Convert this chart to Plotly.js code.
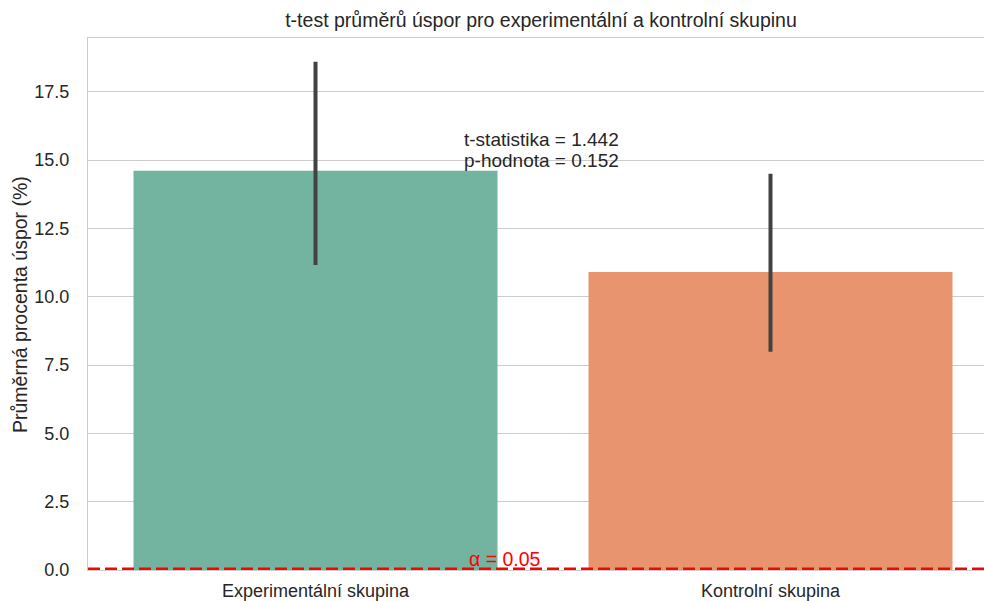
<!DOCTYPE html>
<html>
<head>
<meta charset="utf-8">
<script src="https://cdn.plot.ly/plotly-3.0.1.min.js"></script>
<style>
html,body{margin:0;padding:0;overflow:hidden;background:#fff;}
#chart{width:1000px;height:601px;}
</style>
</head>
<body>
<div id="chart"></div>
<script>
const categories = ["Experimentální skupina", "Kontrolní skupina"];
const means = [14.61, 10.91];
const ciUpper = [18.60, 14.50];
const ciLower = [11.16, 7.99];
const barColors = ["#72b4a0", "#e8956f"];
const alphaLevel = 0.05;
const tStat = 1.442;
const pValue = 0.152;

const errPlus = means.map((m, i) => ciUpper[i] - m);
const errMinus = means.map((m, i) => m - ciLower[i]);

const font = "Liberation Sans, Arial, sans-serif";

const traces = [
  {
    type: "bar",
    x: [0, 1],
    y: means,
    width: 0.8,
    marker: {color: barColors, line: {width: 0}},
    error_y: {
      type: "data",
      symmetric: false,
      array: errPlus,
      arrayminus: errMinus,
      color: "#424242",
      thickness: 4,
      width: 0
    },
    hoverinfo: "none",
    showlegend: false
  },
  {
    type: "scatter",
    mode: "lines",
    x: [-0.5, 1.5],
    y: [alphaLevel, alphaLevel],
    line: {color: "#ff0000", width: 2.5, dash: "12px,5px"},
    hoverinfo: "none",
    showlegend: false,
    cliponaxis: false
  }
];

const layout = {
  width: 1000,
  height: 601,
  margin: {l: 88, r: 2, t: 38, b: 31},
  paper_bgcolor: "#ffffff",
  plot_bgcolor: "#ffffff",
  font: {family: font, color: "#333333", size: 13},
  title: {
    text: "t-test průměrů úspor pro experimentální a kontrolní skupinu",
    font: {family: font, size: 19.5, color: "#262626"},
    x: 541 / 1000,
    xanchor: "center",
    y: 1 - 20 / 601,
    yanchor: "middle"
  },
  xaxis: {
    range: [-0.5, 1.5],
    tickvals: [0, 1],
    ticktext: categories,
    showgrid: false,
    zeroline: false,
    showline: true,
    mirror: true,
    linecolor: "#cccccc",
    linewidth: 1.2,
    ticks: "",
    tickfont: {family: font, size: 18, color: "#262626"},
    ticklabelstandoff: 4
  },
  yaxis: {
    range: [0, 19.47],
    tickvals: [0, 2.5, 5, 7.5, 10, 12.5, 15, 17.5],
    ticktext: ["0.0", "2.5", "5.0", "7.5", "10.0", "12.5", "15.0", "17.5"],
    showgrid: true,
    gridcolor: "#cccccc",
    gridwidth: 1,
    zeroline: false,
    showline: true,
    mirror: true,
    linecolor: "#cccccc",
    linewidth: 1.2,
    ticks: "",
    tickfont: {family: font, size: 18, color: "#262626"},
    ticklabelstandoff: 14
  },
  annotations: [
    {
      x: 20, y: 305, xref: "paper", yref: "paper",
      text: "Průměrná procenta úspor (%)",
      textangle: -90, showarrow: false,
      xanchor: "center", yanchor: "middle",
      font: {family: font, size: 19.5, color: "#262626"}
    },
    {
      x: 0.322, y: means[0], xref: "x", yref: "y",
      xanchor: "left", yanchor: "middle",
      text: "t-statistika = " + tStat.toFixed(3),
      showarrow: false,
      font: {family: font, size: 19, color: "#262626"},
      yshift: (570 - 139.5) - means[0] * 27.33
    },
    {
      x: 0.322, y: means[0], xref: "x", yref: "y",
      xanchor: "left", yanchor: "middle",
      text: "p-hodnota = " + pValue.toFixed(3),
      showarrow: false,
      font: {family: font, size: 19, color: "#262626"},
      yshift: (570 - 160.5) - means[0] * 27.33
    },
    {
      x: 0.417, y: alphaLevel, xref: "x", yref: "y",
      xanchor: "center", yanchor: "middle",
      text: "α = 0.05",
      showarrow: false,
      font: {family: font, size: 19.5, color: "#ff0000"},
      yshift: (570 - 559) - alphaLevel * 27.33
    }
  ]
};

// convert y-label pixel position to paper coords
const plotW = layout.width - layout.margin.l - layout.margin.r;
const plotH = layout.height - layout.margin.t - layout.margin.b;
layout.annotations[0].x = (20 - layout.margin.l) / plotW;
layout.annotations[0].y = 1 - (305 - layout.margin.t) / plotH;

Plotly.newPlot("chart", traces, layout, {displayModeBar: false, staticPlot: true});
</script>
</body>
</html>
